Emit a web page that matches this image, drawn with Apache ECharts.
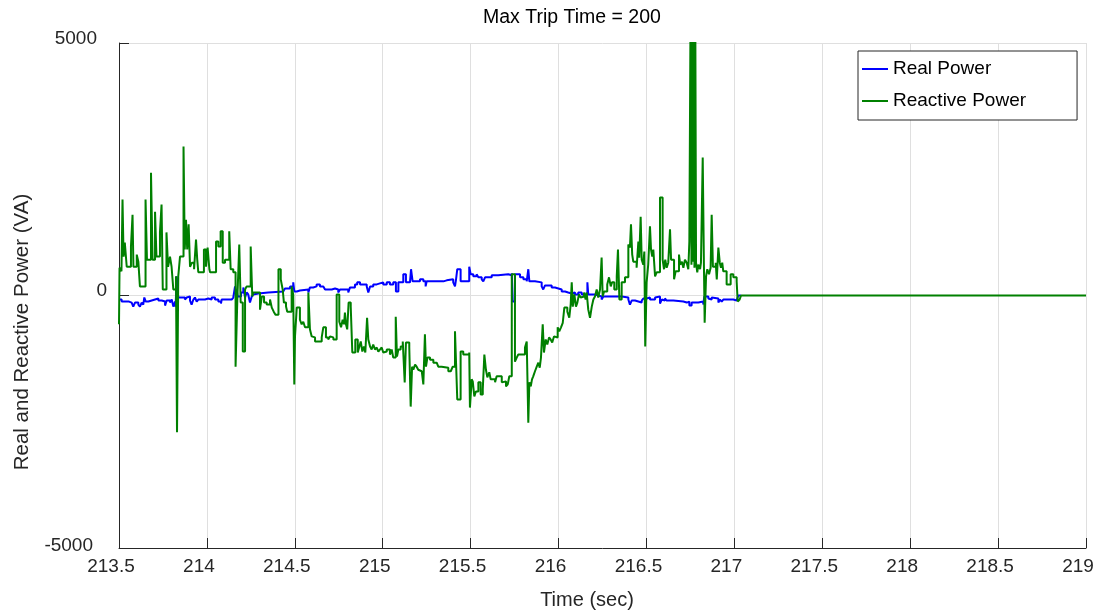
<!DOCTYPE html>
<html>
<head>
<meta charset="utf-8">
<script src="https://cdn.jsdelivr.net/npm/echarts@6/dist/echarts.min.js"></script>
<style>
  html, body { margin: 0; padding: 0; background: #ffffff; }
  #chart { width: 1101px; height: 613px; }
</style>
</head>
<body>
<div id="chart"></div>
<script>
// Plot text
const titleText = 'Max Trip Time = 200';
const xAxisTitle = 'Time (sec)';
const yAxisTitle = 'Real and Reactive Power (VA)';

// Axis extents and tick spacing
const timeRange = [213.5, 219];
const timeStep = 0.5;
const powerRange = [-5000, 5000];
const powerStep = 5000;

// Real power (VA) samples: [time (s), value], held until the next sample
const realPower = [
  [213.500,-80],[213.515,-120],[213.534,-100],[213.544,-120],[213.557,-140],[213.572,-120],[213.581,-220],
  [213.591,-140],[213.610,-180],[213.619,-220],[213.629,-140],[213.638,-180],[213.644,-40],[213.652,-120],
  [213.667,-100],[213.686,-80],[213.705,-60],[213.724,-100],[213.743,-80],[213.752,-120],[213.762,-200],
  [213.771,-100],[213.790,-140],[213.800,-80],[213.809,-220],[213.819,-120],[213.822,-220],[213.828,380],
  [213.837,-40],[213.875,-80],[213.885,-40],[213.894,-20],[213.904,-100],[213.913,-180],[213.923,-80],
  [213.932,-40],[213.942,-120],[213.951,-80],[213.989,-60],[214.008,-80],[214.027,-40],[214.046,-80],
  [214.065,-120],[214.080,-160],[214.084,-80],[214.141,-60],[214.150,-40],[214.160,180],[214.165,20],
  [214.169,120],[214.175,-20],[214.194,60],[214.207,160],[214.217,-40],[214.226,60],[214.235,20],
  [214.245,-140],[214.255,-20],[214.264,20],[214.274,40],[214.292,60],[214.349,80],[214.434,100],
  [214.444,140],[214.473,180],[214.491,260],[214.497,80],[214.511,100],[214.529,120],[214.577,60],
  [214.586,160],[214.605,180],[214.624,220],[214.643,180],[214.662,160],[214.672,120],[214.710,140],
  [214.729,160],[214.738,120],[214.747,60],[214.757,120],[214.804,60],[214.814,160],[214.842,220],
  [214.855,260],[214.871,220],[214.909,180],[214.918,60],[214.928,180],[214.946,220],[214.966,240],
  [214.984,260],[215.003,220],[215.023,260],[215.041,220],[215.060,260],[215.075,80],[215.089,260],
  [215.117,420],[215.132,260],[215.155,280],[215.161,520],[215.170,280],[215.212,320],[215.231,280],
  [215.244,180],[215.250,280],[215.345,300],[215.364,320],[215.401,260],[215.411,180],[215.417,320],
  [215.424,520],[215.443,280],[215.492,570],[215.500,420],[215.515,380],[215.534,420],[215.544,360],
  [215.563,320],[215.572,280],[215.582,360],[215.620,400],[215.657,420],[215.714,400],[215.734,440],
  [215.739,-120],[215.752,420],[215.781,360],[215.800,320],[215.819,280],[215.828,520],[215.834,280],
  [215.866,260],[215.904,180],[215.913,120],[215.923,200],[215.961,160],[215.980,140],[215.999,120],
  [216.018,80],[216.037,60],[216.055,40],[216.075,60],[216.094,20],[216.112,60],[216.132,20],
  [216.164,260],[216.169,20],[216.207,0],[216.226,-20],[216.245,-80],[216.255,-20],[216.359,-40],
  [216.397,-80],[216.406,-180],[216.416,-100],[216.435,-120],[216.454,-140],[216.473,-100],[216.482,-60],
  [216.501,-40],[216.520,-80],[216.549,-40],[216.558,-20],[216.577,-160],[216.587,-80],[216.596,-100],
  [216.605,-60],[216.615,-100],[216.653,-120],[216.710,-140],[216.729,-120],[216.744,-200],[216.757,-140],
  [216.795,-120],[216.823,-180],[216.829,-20],[216.852,-60],[216.861,-80],[216.871,-40],[216.880,-60],
  [216.909,-140],[216.918,-80],[216.928,-120],[216.937,-80],[216.994,-100],[217.013,-80],[217.022,0],
  [217.038,0]
];

// Reactive power (VA) samples: [time (s), value], held until the next sample
const reactivePower = [
  [213.500,-570],[213.503,550],[213.514,480],[213.520,1900],[213.526,770],[213.533,1050],[213.544,570],
  [213.568,970],[213.577,1600],[213.582,570],[213.601,810],[213.610,670],[213.619,180],[213.651,1900],
  [213.659,710],[213.682,2430],[213.691,710],[213.705,1660],[213.713,770],[213.733,1250],[213.742,1800],
  [213.749,120],[213.770,1250],[213.779,570],[213.790,770],[213.799,570],[213.809,120],[213.824,380],
  [213.830,-2710],[213.837,380],[213.847,770],[213.867,2950],[213.874,910],[213.881,1500],[213.888,910],
  [213.896,1410],[213.904,570],[213.915,650],[213.927,520],[213.938,1110],[213.945,710],[213.951,460],
  [213.983,910],[213.995,570],[214.004,950],[214.014,520],[214.018,460],[214.052,1070],[214.065,970],
  [214.078,1270],[214.090,650],[214.103,710],[214.127,1270],[214.135,520],[214.150,460],[214.163,-1410],
  [214.173,-80],[214.184,1010],[214.192,-140],[214.204,-1110],[214.217,120],[214.226,180],[214.249,970],
  [214.258,-20],[214.264,60],[214.302,-280],[214.312,-20],[214.325,-140],[214.340,-180],[214.359,-80],
  [214.369,-240],[214.380,-320],[214.390,-380],[214.407,520],[214.420,320],[214.431,120],[214.438,-140],
  [214.450,-220],[214.457,-320],[214.482,180],[214.491,20],[214.497,-1760],[214.501,-810],[214.511,-240],
  [214.529,-480],[214.539,-570],[214.548,-520],[214.558,-630],[214.577,60],[214.586,-670],[214.596,-810],
  [214.605,-830],[214.615,-910],[214.653,-830],[214.662,-630],[214.677,-830],[214.690,-870],[214.700,-810],
  [214.710,-830],[214.719,-870],[214.738,20],[214.753,-520],[214.763,-630],[214.772,-480],[214.780,-570],
  [214.785,-340],[214.791,-570],[214.798,-670],[214.806,-140],[214.818,-220],[214.827,-1130],[214.844,-870],
  [214.858,-1130],[214.867,-1010],[214.875,-910],[214.884,-1110],[214.893,-1010],[214.901,-1130],
  [214.911,-440],[214.918,-870],[214.928,-1010],[214.937,-1070],[214.946,-970],[214.956,-1070],
  [214.966,-1030],[214.975,-1110],[214.984,-1070],[214.994,-1030],[215.003,-1130],[215.013,-1110],
  [215.023,-1070],[215.041,-1170],[215.051,-1070],[215.060,-1230],[215.074,-420],[215.081,-1210],
  [215.089,-1070],[215.102,-1010],[215.114,-910],[215.121,-930],[215.125,-1720],[215.132,-930],
  [215.151,-1030],[215.159,-2200],[215.167,-1410],[215.174,-1470],[215.184,-1370],[215.193,-1410],
  [215.202,-1470],[215.212,-1500],[215.222,-1470],[215.231,-1760],[215.240,-770],[215.246,-1410],
  [215.254,-1230],[215.269,-1270],[215.288,-1330],[215.307,-1310],[215.316,-1410],[215.335,-1430],
  [215.373,-1500],[215.387,-1520],[215.398,-1410],[215.411,-710],[215.417,-1330],[215.424,-2060],
  [215.443,-1110],[215.458,-1170],[215.492,-1130],[215.496,-2220],[215.506,-1660],[215.512,-1700],
  [215.521,-2000],[215.530,-1900],[215.544,-1720],[215.557,-1960],[215.569,-1860],[215.578,-1170],
  [215.587,-1470],[215.595,-1620],[215.606,-1520],[215.614,-1660],[215.639,-1720],[215.648,-1600],
  [215.677,-1720],[215.686,-1700],[215.701,-1800],[215.711,-1760],[215.720,-1600],[215.734,420],
  [215.752,-1310],[215.762,-1230],[215.771,-1170],[215.809,-1030],[215.819,-910],[215.828,-2520],
  [215.834,-1720],[215.842,-1800],[215.849,-1660],[215.856,-1600],[215.866,-1500],[215.876,-1410],
  [215.885,-1330],[215.893,-1430],[215.900,-1230],[215.910,-570],[215.917,-1130],[215.927,-870],
  [215.936,-970],[215.946,-830],[215.955,-870],[215.964,-930],[215.974,-810],[215.984,-830],
  [215.995,-630],[216.004,-710],[216.014,-630],[216.024,-540],[216.033,-240],[216.050,-320],
  [216.061,-440],[216.069,-180],[216.075,260],[216.081,-220],[216.090,20],[216.099,-220],[216.107,-140],
  [216.116,20],[216.126,-40],[216.137,-20],[216.145,60],[216.154,-80],[216.160,60],[216.169,-280],
  [216.179,-440],[216.189,-220],[216.198,-80],[216.207,-20],[216.217,120],[216.226,-40],[216.236,120],
  [216.245,750],[216.251,-20],[216.259,80],[216.277,220],[216.287,360],[216.297,180],[216.304,260],
  [216.317,120],[216.331,380],[216.338,910],[216.346,-80],[216.359,260],[216.378,360],[216.397,1010],
  [216.406,950],[216.412,1410],[216.419,810],[216.425,670],[216.444,550],[216.454,1070],[216.459,750],
  [216.467,1560],[216.473,710],[216.482,610],[216.488,870],[216.493,-1010],[216.501,260],[216.510,610],
  [216.520,1370],[216.526,910],[216.533,770],[216.539,910],[216.549,380],[216.558,460],[216.577,1940],
  [216.592,710],[216.600,520],[216.607,710],[216.615,550],[216.624,650],[216.634,1310],[216.640,710],
  [216.657,320],[216.666,480],[216.685,810],[216.692,610],[216.702,670],[216.710,550],[216.719,710],
  [216.729,650],[216.738,520],[216.744,1070],[216.752,6500],[216.756,610],[216.760,6500],[216.765,670],
  [216.769,6500],[216.773,550],[216.777,6500],[216.782,650],[216.789,460],[216.795,610],[216.805,520],
  [216.810,650],[216.820,2730],[216.827,570],[216.831,-540],[216.839,380],[216.846,520],[216.856,420],
  [216.865,550],[216.871,1600],[216.878,570],[216.894,650],[216.900,320],[216.909,950],[216.917,650],
  [216.924,550],[216.931,650],[216.937,480],[216.956,220],[216.979,420],[216.994,360],[217.013,280],
  [217.019,-120],[217.030,-80],[217.038,0],[219.000,0]
];

const FONT = '"Liberation Sans", Arial, Helvetica, sans-serif';
const INK = '#262626';
const GRID = '#dfdfdf';

// Per-label text boxes for the power axis (top, zero, bottom tick labels)
const tickText = (pad) => ({ fontFamily: FONT, fontSize: 19, color: INK, padding: pad });

const chart = echarts.init(document.getElementById('chart'), null, { renderer: 'canvas' });

chart.setOption({
  animation: false,
  backgroundColor: '#ffffff',
  title: {
    text: titleText,
    left: 483,
    top: 8,
    padding: 0,
    textStyle: { fontFamily: FONT, fontSize: 19.5, fontWeight: 'normal', color: '#000000' }
  },
  grid: { left: 119, right: 15, top: 43, bottom: 65, containLabel: false },
  legend: {
    orient: 'vertical',
    left: 858,
    top: 51,
    padding: [2, 51, 3, 4],
    itemGap: 0,
    itemWidth: 26,
    itemHeight: 2,
    icon: 'rect',
    backgroundColor: '#ffffff',
    borderColor: INK,
    borderWidth: 1,
    borderRadius: 0,
    selectedMode: false,
    textStyle: { fontFamily: FONT, fontSize: 19, color: '#000000', lineHeight: 20, padding: [0, 0, 12, 0] },
    data: ['Real Power', 'Reactive Power']
  },
  xAxis: {
    type: 'value',
    min: timeRange[0],
    max: timeRange[1],
    interval: timeStep,
    axisLine: { show: true, onZero: false, lineStyle: { color: INK, width: 1 } },
    axisTick: { show: true, inside: true, length: 10, lineStyle: { color: INK, width: 1 } },
    axisLabel: { fontFamily: FONT, fontSize: 19, color: INK, margin: 9, padding: [0, 16, 0, 0] },
    splitLine: { show: true, lineStyle: { color: GRID, width: 1 } }
  },
  yAxis: {
    type: 'value',
    min: powerRange[0],
    max: powerRange[1],
    interval: powerStep,
    axisLine: { show: true, onZero: false, lineStyle: { color: INK, width: 1 } },
    axisTick: { show: true, inside: true, length: 10, lineStyle: { color: INK, width: 1 } },
    axisLabel: {
      fontFamily: FONT, fontSize: 19, color: INK, margin: 10,
      formatter: (v) => (v > 0 ? '{hi|' : v < 0 ? '{lo|' : '{mid|') + String(v) + '}',
      rich: {
        hi: tickText([0, 12, 8, 0]),
        mid: tickText([0, 2, 10, 0]),
        lo: tickText([0, 16, 4, 0])
      }
    },
    splitLine: { show: true, lineStyle: { color: GRID, width: 1 } }
  },
  graphic: [
    {
      type: 'text',
      x: 22,
      y: 332,
      rotation: Math.PI / 2,
      silent: true,
      style: { text: yAxisTitle, fontFamily: FONT, fontSize: 20.5, fill: INK, align: 'center', verticalAlign: 'middle' }
    },
    {
      type: 'text',
      x: 587,
      y: 600,
      silent: true,
      style: { text: xAxisTitle, fontFamily: FONT, fontSize: 20, fill: INK, align: 'center', verticalAlign: 'middle' }
    }
  ],
  series: [
    {
      name: 'Real Power',
      type: 'line',
      step: 'end',
      data: realPower,
      symbol: 'none',
      showSymbol: false,
      clip: true,
      lineStyle: { color: '#0000ff', width: 2 },
      itemStyle: { color: '#0000ff' },
      emphasis: { disabled: true }
    },
    {
      name: 'Reactive Power',
      type: 'line',
      step: 'end',
      data: reactivePower,
      symbol: 'none',
      showSymbol: false,
      clip: true,
      lineStyle: { color: '#008000', width: 2 },
      itemStyle: { color: '#008000' },
      emphasis: { disabled: true }
    }
  ]
});
</script>
</body>
</html>
